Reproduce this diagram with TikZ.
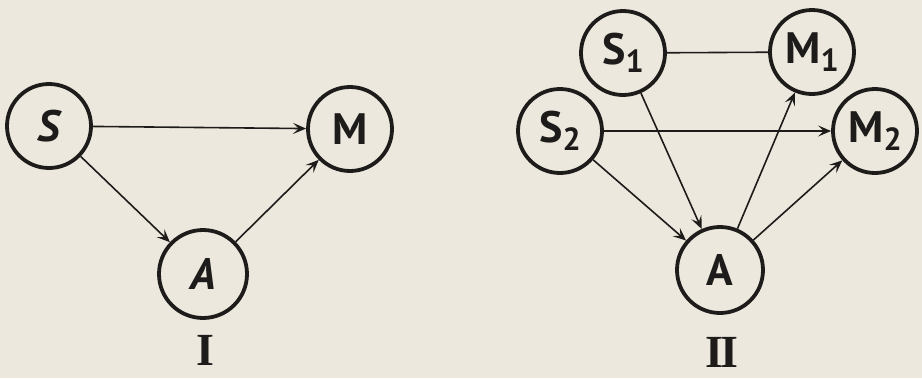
\documentclass[tikz,border=0pt]{standalone}
\usepackage{fontspec}
\setmainfont{PT Sans}
\newfontfamily\numfont{Liberation Serif}
\usetikzlibrary{arrows.meta}
\definecolor{paper}{RGB}{236,232,222}
\definecolor{ink}{RGB}{30,28,26}
% lowered index digit after a node letter
\newcommand{\idx}[1]{\raisebox{-8pt}{\fontsize{32}{32}\selectfont #1}}
\begin{document}
\begin{tikzpicture}[x=1pt,y=-1pt,
  state/.style={circle, draw=ink, text=ink, line width=3.8pt, minimum size=84pt,
    inner sep=0pt, font=\fontsize{44}{44}\selectfont\bfseries},
  link/.style={draw=ink, line width=1.6pt},
  arr/.style={link, -{Stealth[length=13pt,width=11pt,inset=5.5pt]}},
  numeral/.style={font=\numfont\bfseries\fontsize{46}{46}\selectfont, text=ink, inner sep=0pt}]
\fill[paper] (0,0) rectangle (922,378);
\useasboundingbox (0,0) rectangle (922,378);

% ---- scheme I ----
\node[state] (S) at (49,126) {\itshape S};
\node[state] (M) at (350,129) {M};
\node[state, minimum size=88pt] (A) at (203,274) {\itshape A};
\node[numeral] (n1) at (205,350) {I};

\draw[arr] (S) -- (M);
\draw[arr] (S) -- (A);
\draw[arr] (A) -- (M);

% ---- scheme II ----
\node[state] (S1) at (623,53) {S\idx{1}};
\node[state] (S2) at (560,131) {S\idx{2}};
\node[state] (M1) at (812,52) {M\idx{1}};
\node[state] (M2) at (875,131) {M\idx{2}};
\node[state, minimum size=86pt] (A2) at (720,270) {A};
\node[numeral] (n2) at (722,352) {I\kern-3pt I};

\draw[link] (S1) -- (M1);
\draw[arr] (S2) -- (M2);
\draw[arr] (S1) -- (A2);
\draw[arr] (S2) -- (A2);
\draw[arr] (A2) -- (M1);
\draw[arr] (A2) -- (M2);
\end{tikzpicture}
\end{document}
